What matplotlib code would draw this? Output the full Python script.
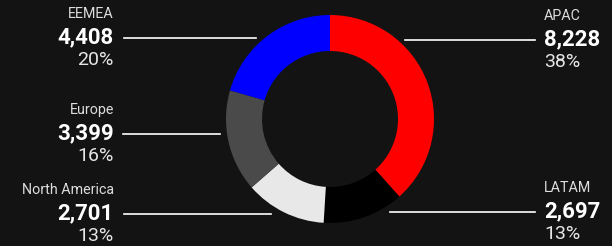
import matplotlib.pyplot as plt

regions = ['APAC', 'LATAM', 'North America', 'Europe', 'EEMEA']
values = [8228, 2697, 2701, 3399, 4408]
shares = ['38%', '13%', '13%', '16%', '20%']
colors = ['#ff0000', '#000000', '#e8e8e8', '#4a4a4a', '#0000ff']

BG = '#131313'
W, H = 612, 246

# label layout (pixel coords from the top-left): side, text x, number y, line x0, line x1
layout = {
    'APAC': ('right', 544, 39, 405, 535),
    'LATAM': ('right', 544, 211, 390, 535),
    'North America': ('left', 114, 213, 124, 271),
    'Europe': ('left', 114, 133, 123, 220),
    'EEMEA': ('left', 114, 37, 124, 256),
}

fig = plt.figure(figsize=(W / 100, H / 100), dpi=100, facecolor=BG)
ax = fig.add_axes([0, 0, 1, 1])
ax.set_facecolor(BG)


def py(y):
    return H - y


ax.pie(values, colors=colors, startangle=90, counterclock=False,
       center=(330, py(119)), radius=104,
       wedgeprops=dict(width=36, linewidth=0), frame=True)
ax.set_xlim(0, W)
ax.set_ylim(0, H)
ax.set_aspect('equal')
ax.axis('off')

font = 'Roboto'
for name, val, pct in zip(regions, values, shares):
    side, tx, ny, x0, x1 = layout[name]
    ha = 'left' if side == 'right' else 'right'
    ax.plot([x0, x1], [py(ny + 1), py(ny + 1)], color='white', lw=1.2)
    ax.text(tx, py(ny - 23), name, ha=ha, va='center', color='#dddddd',
            fontsize=10.3, family=font)
    ax.text(tx, py(ny), f'{val:,}', ha=ha, va='center', color='white',
            fontsize=16, fontweight='bold', family=font)
    ax.text(tx, py(ny + 23), pct, ha=ha, va='center', color='#e6e6e6',
            fontsize=14, family=font)

fig.savefig('out.png', dpi=100, facecolor=BG)
